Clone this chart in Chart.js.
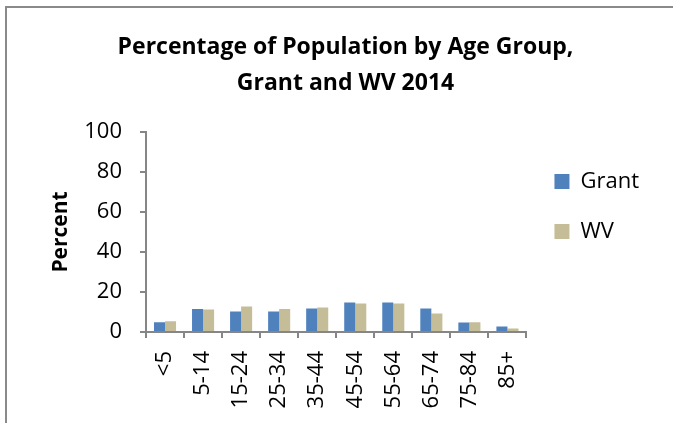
<!DOCTYPE html>
<html>
<head>
<meta charset="utf-8">
<script src="https://cdn.jsdelivr.net/npm/chart.js@4"></script>
<style>
  html, body { margin: 0; padding: 0; background: #fff; }
  canvas { display: block; }
</style>
</head>
<body>
<canvas id="c" width="673" height="423"></canvas>
<script>
const categories = ['<5', '5-14', '15-24', '25-34', '35-44', '45-54', '55-64', '65-74', '75-84', '85+'];
const grantValues = [4.9, 11.5, 10.3, 10.3, 11.8, 14.7, 14.8, 11.7, 4.7, 2.8];
const wvValues = [5.4, 11.3, 12.8, 11.5, 12.3, 14.2, 14.3, 9.3, 4.9, 1.7];
const yTicks = [0, 20, 40, 60, 80, 100];
const titleLines = ['Percentage of Population by Age Group,', 'Grant and WV 2014'];

const FONT = "'Open Sans', 'DejaVu Sans', sans-serif";
const AXIS = '#868686';

const frame = {
  id: 'frame',
  beforeDraw(chart) {
    const ctx = chart.ctx;
    ctx.save();
    ctx.fillStyle = '#fff';
    ctx.fillRect(0, 0, chart.width, chart.height);
    ctx.fillStyle = '#8a8a8a';
    ctx.fillRect(5, 6, chart.width - 5, 2);
    ctx.fillRect(5, 6, 2, chart.height - 6);
    ctx.restore();
  }
};

Chart.defaults.color = '#000';
Chart.defaults.font.family = FONT;

new Chart(document.getElementById('c'), {
  type: 'bar',
  data: {
    labels: categories,
    datasets: [
      { label: 'Grant', data: grantValues, backgroundColor: '#4f81bd', borderWidth: 0 },
      { label: 'WV', data: wvValues, backgroundColor: '#c4bd97', borderWidth: 0 }
    ]
  },
  options: {
    responsive: false,
    animation: false,
    devicePixelRatio: 1,
    categoryPercentage: 0.58,
    barPercentage: 1.0,
    layout: { padding: { left: 42, right: 24, top: 0, bottom: 10 } },
    plugins: {
      title: {
        display: true,
        text: titleLines,
        font: { family: FONT, size: 23, weight: 'bold', lineHeight: 1.565 },
        color: '#000',
        padding: { top: 29, bottom: 31 }
      },
      legend: {
        position: 'right',
        align: 'center',
        labels: {
          boxWidth: 15,
          boxHeight: 15,
          padding: 28,
          font: { family: FONT, size: 22 },
          color: '#000'
        }
      },
      tooltip: { enabled: false }
    },
    scales: {
      x: {
        grid: { display: true, drawOnChartArea: false, drawTicks: true, tickLength: 6, color: AXIS, lineWidth: 2, offset: true },
        border: { display: true, color: AXIS, width: 2 },
        ticks: { maxRotation: 90, minRotation: 90, padding: 13, font: { family: FONT, size: 22 }, color: '#000', autoSkip: false },
        afterFit(scale) { scale.height = 81; }
      },
      y: {
        min: 0,
        max: 100,
        grid: { display: true, drawOnChartArea: false, drawTicks: true, tickLength: 6, color: AXIS, lineWidth: 2 },
        border: { display: true, color: AXIS, width: 2 },
        afterBuildTicks(scale) { scale.ticks = yTicks.map(v => ({ value: v })); },
        ticks: { padding: 18, font: { family: FONT, size: 22 }, color: '#000' },
        title: {
          display: true,
          text: 'Percent',
          font: { family: FONT, size: 21, weight: 'bold' },
          color: '#000',
          padding: { top: 6, bottom: 0 }
        },
        afterFit(scale) { scale.width = 104; }
      }
    }
  },
  plugins: [frame]
});
</script>
</body>
</html>
